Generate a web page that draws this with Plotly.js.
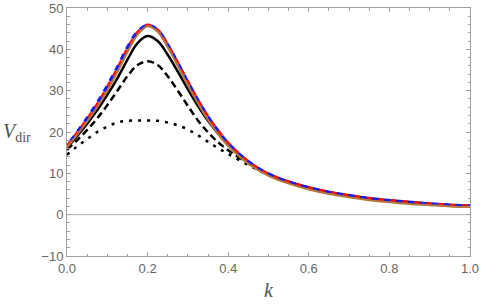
<!DOCTYPE html>
<html><head><meta charset="utf-8">
<script src="https://cdn.plot.ly/plotly-3.0.1.min.js"></script>
<style>html,body{margin:0;padding:0;background:#fff}#c{width:481px;height:305px}</style>
</head><body><div id="c"></div>
<script>
const k = [0, 0.025, 0.05, 0.075, 0.1, 0.125, 0.15, 0.175, 0.2, 0.225, 0.25, 0.275, 0.3, 0.325, 0.35, 0.375, 0.4, 0.45, 0.5, 0.55, 0.6, 0.65, 0.7, 0.75, 0.8, 0.85, 0.9, 0.95, 1.0];
const vOrange = [16.3, 19.3, 22.5, 26.0, 30.0, 34.5, 39.3, 43.5, 45.6, 44.3, 40.5, 36.0, 31.3, 26.9, 22.9, 19.5, 16.6, 12.3, 9.4, 7.5, 6.1, 5.0, 4.2, 3.5, 3.0, 2.6, 2.3, 2.0, 1.85];
const vRed = [16.5, 19.7, 23.0, 26.6, 30.7, 35.2, 40.0, 44.0, 45.8, 44.6, 41.0, 36.6, 32.0, 27.6, 23.6, 20.2, 17.2, 12.8, 9.8, 7.9, 6.5, 5.4, 4.6, 3.9, 3.4, 3.0, 2.6, 2.3, 2.1];
const vBlue = [16.6, 19.9, 23.3, 27.0, 31.1, 35.6, 40.4, 44.2, 45.8, 44.6, 41.0, 36.6, 32.0, 27.6, 23.6, 20.2, 17.2, 12.8, 9.8, 7.9, 6.5, 5.4, 4.6, 3.9, 3.4, 3.0, 2.6, 2.3, 2.1];
const vSolid = [16.2, 19.0, 22.0, 25.3, 29.0, 33.0, 37.5, 41.5, 43.2, 42.0, 38.7, 34.6, 30.3, 26.3, 22.7, 19.6, 16.9, 12.7, 9.8, 7.9, 6.5, 5.4, 4.6, 3.9, 3.4, 3.0, 2.6, 2.3, 2.1];
const vDashed = [15.7, 18.0, 20.5, 23.3, 26.5, 30.0, 33.5, 36.2, 37.1, 36.2, 33.5, 30.0, 26.3, 22.8, 19.9, 17.5, 15.6, 12.4, 9.7, 7.9, 6.5, 5.4, 4.6, 3.9, 3.4, 3.0, 2.6, 2.3, 2.1];
const vDotted = [14.5, 16.5, 18.3, 20.0, 21.3, 22.3, 22.7, 22.8, 22.8, 22.7, 22.3, 21.6, 20.6, 19.2, 17.6, 16.1, 14.7, 12.0, 9.6, 7.9, 6.5, 5.4, 4.6, 3.9, 3.4, 3.0, 2.6, 2.3, 2.1];
const xTicks = [0, 0.2, 0.4, 0.6, 0.8, 1.0];
const xTickText = ['0.0', '0.2', '0.4', '0.6', '0.8', '1.0'];
const yTicks = [-10, 0, 10, 20, 30, 40, 50];
const yTickText = ['\u221210', '0', '10', '20', '30', '40', '50'];

function tr(y, color, width, dash) {
  return {x: k, y: y, type: 'scatter', mode: 'lines',
    line: {color: color, width: width, dash: dash, shape: 'spline', smoothing: 1.0},
    hoverinfo: 'skip', showlegend: false};
}
const data = [
  {x: [0, 1], y: [0, 0], type: 'scatter', mode: 'lines', line: {color: '#b0b0b0', width: 1}, showlegend: false, hoverinfo: 'skip'},
  tr(vDotted, '#000', 2.5, '3px,6px'),
  tr(vDashed, '#000', 2.5, '7px,4px'),
  tr(vSolid, '#000', 2.5, 'solid'),
  tr(vRed, '#ee1111', 3.5, '6px,6px'),
  tr(vBlue, '#1a1aee', 3.5, '0px,6px,6px,0px'),
  tr(vOrange, '#b5773a', 2, 'solid')
];
const axisCommon = {
  showgrid: false, zeroline: false, showline: true, linecolor: '#a0a0a0', linewidth: 1,
  mirror: 'allticks', ticks: 'inside', ticklen: 4, tickwidth: 1, tickcolor: '#a0a0a0',
  tickfont: {family: 'Liberation Sans, Arial, sans-serif', size: 13, color: '#666'},
  tickmode: 'array'
};
const layout = {
  width: 481, height: 305,
  margin: {l: 67, r: 11, t: 8, b: 49},
  paper_bgcolor: '#fff', plot_bgcolor: '#fff',
  xaxis: Object.assign({}, axisCommon, {range: [0, 1], tickvals: xTicks, ticktext: xTickText,
    minor: {tickvals: [0.05,0.1,0.15,0.25,0.3,0.35,0.45,0.5,0.55,0.65,0.7,0.75,0.85,0.9,0.95], ticks: 'inside', ticklen: 2.5, tickcolor: '#a0a0a0', tickwidth: 1}}),
  yaxis: Object.assign({}, axisCommon, {range: [-10, 50], tickvals: yTicks, ticktext: yTickText,
    minor: {tickvals: [-8,-6,-4,-2,2,4,6,8,12,14,16,18,22,24,26,28,32,34,36,38,42,44,46,48], ticks: 'inside', ticklen: 2.5, tickcolor: '#a0a0a0', tickwidth: 1}}),
  annotations: [
    {text: '<i>k</i>', xref: 'paper', yref: 'paper', x: 0.5, y: -0.137, xanchor: 'center', yanchor: 'middle', showarrow: false,
     font: {family: 'Liberation Serif, Times New Roman, serif', size: 20, color: '#555'}},
    {text: '<i>V</i><sub>dir</sub>', xref: 'paper', yref: 'paper', x: -0.085, y: 0.5, xanchor: 'right', yanchor: 'middle', showarrow: false,
     font: {family: 'Liberation Serif, Times New Roman, serif', size: 20, color: '#555'}}
  ]
};
Plotly.newPlot('c', data, layout, {staticPlot: true, displayModeBar: false});
</script></body></html>
